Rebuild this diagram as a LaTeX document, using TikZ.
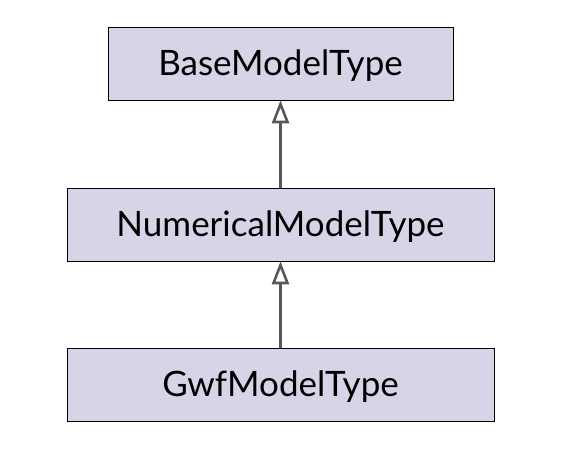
\documentclass[tikz,border=0pt]{standalone}
\usepackage{fontspec}
\setmainfont{Lato}
\usetikzlibrary{arrows.meta}

\definecolor{boxfill}{HTML}{D9D3E8}
\definecolor{linkgray}{HTML}{585858}

\begin{document}
\begin{tikzpicture}[
    x=1pt, y=1pt,
    typebox/.style={rectangle, draw=black, fill=boxfill, semithick, minimum height=73pt, inner sep=0pt, text height=24pt, text depth=0pt, font=\fontsize{35}{40}\selectfont},
    inherit/.style={-{Triangle[open, length=23pt, width=17pt, line width=2.6pt]}, draw=linkgray, line width=3pt}
]
    \useasboundingbox (0,0) rectangle (574,-450);

    % Type boxes
    \node[typebox, minimum width=345pt] (base) at (280.5,-63.5) {BaseModelType};
    \node[typebox, minimum width=427pt] (numerical) at (280.5,-224.5) {NumericalModelType};
    \node[typebox, minimum width=427pt] (gwf) at (280.5,-384.5) {GwfModelType};

    % Inheritance links
    \draw[inherit] (numerical) -- (base);
    \draw[inherit] (gwf) -- (numerical);

\end{tikzpicture}
\end{document}
